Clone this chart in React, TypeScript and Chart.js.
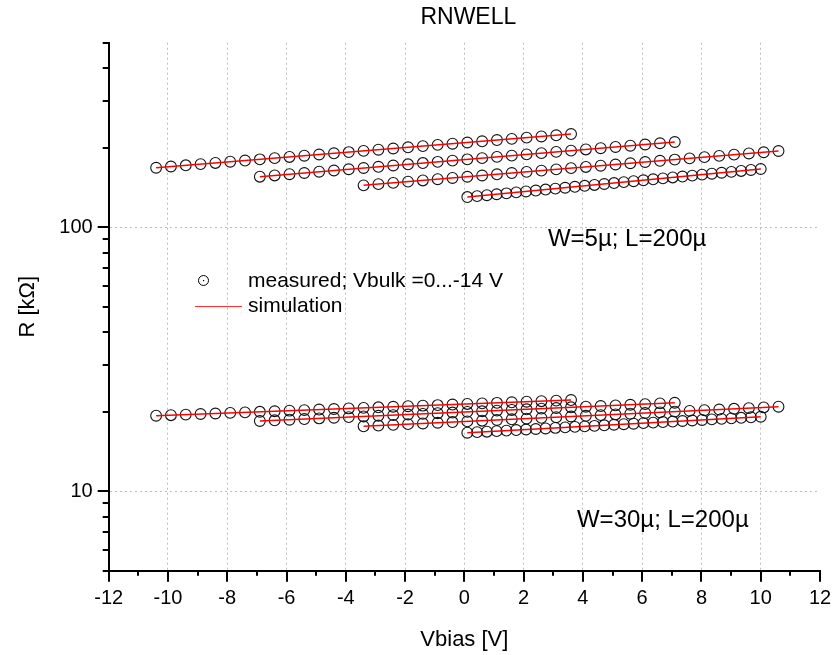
import React, { useEffect, useRef } from "react";
import { Chart, registerables } from "chart.js";
Chart.register(...registerables);

const FONT = "'Liberation Sans', Arial, Helvetica, sans-serif";

// Vbias sweeps (V) for the four Vbulk settings
const xRowA = [-10.4,-9.9,-9.4,-8.9,-8.4,-7.9,-7.4,-6.9,-6.4,-5.9,-5.4,-4.9,-4.4,-3.9,-3.4,-2.9,-2.4,-1.9,-1.4,-0.9,-0.4,0.1,0.6,1.1,1.6,2.1,2.6,3.1,3.6];
const xRowB = [-6.9,-6.4,-5.9,-5.4,-4.9,-4.4,-3.9,-3.4,-2.9,-2.4,-1.9,-1.4,-0.9,-0.4,0.1,0.6,1.1,1.6,2.1,2.6,3.1,3.6,4.1,4.6,5.1,5.6,6.1,6.6,7.1];
const xRowC = [-3.4,-2.9,-2.4,-1.9,-1.4,-0.9,-0.4,0.1,0.6,1.1,1.6,2.1,2.6,3.1,3.6,4.1,4.6,5.1,5.6,6.1,6.6,7.1,7.6,8.1,8.6,9.1,9.6,10.1,10.6];
const xRowD = [0.1,0.43,0.76,1.09,1.42,1.75,2.08,2.41,2.74,3.07,3.4,3.73,4.06,4.39,4.72,5.05,5.38,5.71,6.04,6.37,6.7,7.03,7.36,7.69,8.02,8.35,8.68,9.01,9.34,9.67,10.0];

// measured R (kOhm), W=5u; L=200u
const w5A = [168.0,169.8,171.6,173.4,175.2,177.1,178.9,180.8,182.7,184.6,186.6,188.6,190.6,192.6,194.6,196.6,198.7,200.8,202.9,205.1,207.2,209.4,211.6,213.9,216.1,218.4,220.7,223.0,225.4];
const w5B = [155.4,157.1,158.8,160.5,162.3,164.0,165.8,167.6,169.4,171.3,173.1,175.0,176.9,178.8,180.8,182.7,184.7,186.7,188.8,190.8,192.9,195.0,197.1,199.2,201.4,203.6,205.8,208.0,210.3];
const w5C = [144.1,145.6,147.2,148.8,150.4,152.0,153.7,155.3,157.0,158.7,160.4,162.1,163.8,165.6,167.4,169.2,171.0,172.8,174.7,176.6,178.5,180.4,182.3,184.3,186.3,188.3,190.3,192.3,194.4];
const w5D = [130.1,131.2,132.2,133.3,134.4,135.5,136.6,137.7,138.9,140.0,141.1,142.3,143.5,144.6,145.8,147.0,148.2,149.4,150.6,151.9,153.1,154.4,155.6,156.9,158.2,159.5,160.8,162.1,163.4,164.8,166.1];

// measured R (kOhm), W=30u; L=200u
const w30A = [19.32,19.41,19.51,19.61,19.70,19.80,19.89,19.99,20.09,20.19,20.29,20.39,20.49,20.59,20.69,20.79,20.89,20.99,21.09,21.20,21.30,21.41,21.51,21.62,21.72,21.83,21.93,22.04,22.15];
const w30B = [18.45,18.56,18.66,18.77,18.87,18.98,19.09,19.20,19.31,19.42,19.53,19.64,19.75,19.86,19.98,20.09,20.20,20.32,20.43,20.55,20.67,20.79,20.90,21.02,21.14,21.26,21.38,21.51,21.63];
const w30C = [17.62,17.73,17.84,17.95,18.06,18.17,18.28,18.39,18.50,18.61,18.73,18.84,18.96,19.07,19.19,19.31,19.42,19.54,19.66,19.78,19.90,20.03,20.15,20.27,20.39,20.52,20.64,20.77,20.90];
const w30D = [16.66,16.74,16.81,16.89,16.97,17.05,17.13,17.21,17.29,17.37,17.45,17.53,17.61,17.69,17.77,17.86,17.94,18.02,18.11,18.19,18.28,18.36,18.45,18.53,18.62,18.71,18.79,18.88,18.97,19.06,19.15];

// simulation end points
const simX = [[-10.4, 3.6], [-6.9, 7.1], [-3.4, 10.6], [0.1, 10.0]];
const simW5 = [[168.0, 225.4], [155.4, 210.3], [144.1, 194.4], [130.1, 166.1]];
const simW30 = [[19.32, 22.15], [18.45, 21.63], [17.62, 20.9], [16.66, 19.15]];

// axes
const xMin = -12, xMax = 12, xStep = 2;
const xMinorTicks = [-11,-9,-7,-5,-3,-1,1,3,5,7,9,11];
const yMin = 5, yMax = 500;
const yMajorTicks = [10, 100];
const yMinorTicks = [5,6,7,8,9,20,30,40,50,60,70,80,90,200,300,400,500];

const titleText = "RNWELL";
const xTitle = "Vbias [V]";
const yTitle = "R [k\u03A9]";
const legendMeasured = "measured; Vbulk =0...-14 V";
const legendSim = "simulation";
const labelW5 = "W=5\u00B5; L=200\u00B5";
const labelW30 = "W=30\u00B5; L=200\u00B5";

export default function App() {
  const ref = useRef<HTMLCanvasElement>(null);
  useEffect(() => {
    const canvas = ref.current!;
    const pts = (xs: number[], ys: number[]) => xs.map((x, i) => ({ x, y: ys[i] }));
    const measuredSets: any[] = [];
    const rows: [number[], number[]][] = [
      [xRowA, w5A], [xRowB, w5B], [xRowC, w5C], [xRowD, w5D],
      [xRowA, w30A], [xRowB, w30B], [xRowC, w30C], [xRowD, w30D],
    ];
    rows.forEach(([xs, ys]) => {
      measuredSets.push({
        data: pts(xs, ys),
        showLine: false,
        pointStyle: "circle",
        pointRadius: 5.4,
        pointBorderWidth: 1.1,
        pointBorderColor: "#111",
        pointBackgroundColor: "rgba(0,0,0,0)",
        order: 2,
      });
    });
    const simSets: any[] = [];
    [simW5, simW30].forEach((grp) => {
      grp.forEach((ys, i) => {
        simSets.push({
          data: pts(simX[i], ys),
          showLine: true,
          borderColor: "#ff0000",
          borderWidth: 1.5,
          pointRadius: 0,
          fill: false,
          order: 1,
        });
      });
    });

    const decor = {
      id: "decor",
      afterDraw(chart: any) {
        const { ctx, scales, chartArea } = chart;
        const x = scales.x, y = scales.y;
        ctx.save();
        // ticks
        ctx.strokeStyle = "#000";
        ctx.lineWidth = 2;
        ctx.beginPath();
        for (let v = xMin; v <= xMax; v += xStep) {
          const px = Math.round(x.getPixelForValue(v));
          ctx.moveTo(px, chartArea.bottom);
          ctx.lineTo(px, chartArea.bottom + 11);
        }
        xMinorTicks.forEach((v) => {
          const px = Math.round(x.getPixelForValue(v));
          ctx.moveTo(px, chartArea.bottom);
          ctx.lineTo(px, chartArea.bottom + 5);
        });
        yMajorTicks.forEach((v) => {
          const py = Math.round(y.getPixelForValue(v));
          ctx.moveTo(chartArea.left - 11, py);
          ctx.lineTo(chartArea.left, py);
        });
        yMinorTicks.forEach((v) => {
          const py = Math.round(y.getPixelForValue(v));
          ctx.moveTo(chartArea.left - 6, py);
          ctx.lineTo(chartArea.left, py);
        });
        ctx.stroke();

        ctx.fillStyle = "#000";
        ctx.textBaseline = "middle";
        // title
        ctx.font = `23px ${FONT}`;
        ctx.textAlign = "center";
        ctx.fillText(titleText, (chartArea.left + chartArea.right) / 2 + 4, 18);

        // labels
        ctx.textAlign = "left";
        ctx.font = `24px ${FONT}`;
        ctx.fillText(labelW5, x.getPixelForValue(2.82), y.getPixelForValue(90.2));
        ctx.fillText(labelW30, x.getPixelForValue(3.8), y.getPixelForValue(7.78));

        // legend
        ctx.font = `21px ${FONT}`;
        ctx.lineWidth = 1;
        ctx.strokeStyle = "#000";
        ctx.beginPath();
        ctx.arc(203.5, 280.5, 5, 0, Math.PI * 2);
        ctx.stroke();
        ctx.fillRect(203, 280, 1.2, 1.2);
        ctx.fillText(legendMeasured, 248, 281);
        ctx.strokeStyle = "#ff3030";
        ctx.beginPath();
        ctx.moveTo(195, 306.5);
        ctx.lineTo(242, 306.5);
        ctx.stroke();
        ctx.fillText(legendSim, 248, 306);
        ctx.restore();
      },
    };

    const chart = new Chart(canvas, {
      type: "scatter",
      data: { datasets: [...simSets, ...measuredSets] },
      options: {
        animation: false,
        responsive: false,
        devicePixelRatio: 1,
        layout: { padding: { left: 0, top: 42.7, right: 16, bottom: 0 } },
        plugins: { legend: { display: false }, tooltip: { enabled: false }, title: { display: false } },
        scales: {
          x: {
            type: "linear",
            min: xMin,
            max: xMax,
            ticks: { stepSize: xStep, color: "#000", font: { family: FONT, size: 20 }, padding: 3, maxRotation: 0, autoSkip: false },
            grid: {
              drawTicks: true,
              tickLength: 13,
              tickColor: "rgba(0,0,0,0)",
              lineWidth: 1,
              color: (c: any) => (c.tick && (c.tick.value === xMin || c.tick.value === xMax) ? "rgba(0,0,0,0)" : "#bdbdbd"),
            },
            border: { display: true, color: "#000", width: 2, dash: [2, 3] },
            title: { display: true, text: xTitle, color: "#000", font: { family: FONT, size: 22 }, padding: { top: 0, bottom: 2 } },
            afterFit: (s: any) => { s.height = 655 - 570.7; },
          },
          y: {
            type: "logarithmic",
            min: yMin,
            max: yMax,
            afterBuildTicks: (s: any) => { s.ticks = yMajorTicks.map((v) => ({ value: v })); },
            ticks: { color: "#000", font: { family: FONT, size: 20 }, padding: 3, autoSkip: false, callback: (v: any) => String(v) },
            grid: { drawTicks: true, tickLength: 13, tickColor: "rgba(0,0,0,0)", lineWidth: 1, color: "#bdbdbd" },
            border: { display: true, color: "#000", width: 2, dash: [2, 3] },
            title: { display: true, text: yTitle, color: "#000", font: { family: FONT, size: 22 }, padding: { top: 15, bottom: 0 } },
            afterFit: (s: any) => { s.width = 108.7; },
          },
        },
      },
      plugins: [decor],
    });
    return () => chart.destroy();
  }, []);
  return (
    <div style={{ position: "absolute", left: 0, top: 0, width: 836, height: 655, background: "#fff" }}>
      <canvas ref={ref} width={836} height={655} style={{ width: 836, height: 655, display: "block" }} />
    </div>
  );
}
